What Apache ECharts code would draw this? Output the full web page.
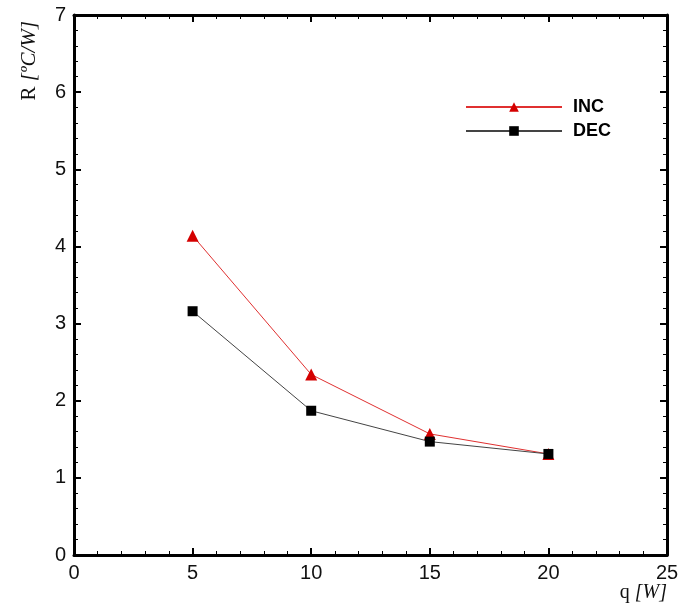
<!DOCTYPE html>
<html>
<head>
<meta charset="utf-8">
<script src="https://cdn.jsdelivr.net/npm/echarts@6/dist/echarts.min.js"></script>
<style>
  html, body { margin: 0; padding: 0; background: #fff; }
  #chart { width: 681px; height: 605px; }
</style>
</head>
<body>
<div id="chart"></div>
<script>
// Heat input q [W] and thermal resistance R [ºC/W]
const qValues = [5, 10, 15, 20];
const incValues = [4.14, 2.34, 1.57, 1.31];
const decValues = [3.16, 1.87, 1.47, 1.31];
const xTicks = [0, 5, 10, 15, 20, 25];
const yTicks = [0, 1, 2, 3, 4, 5, 6, 7];

const chart = echarts.init(document.getElementById('chart'), null, { renderer: 'canvas' });

const frameAxisLine = { show: true, onZero: false, lineStyle: { color: '#000', width: 3 } };
const tickFont = { fontFamily: 'Liberation Sans, Arial, sans-serif', fontSize: 20, color: '#111' };
const serif = 'Liberation Serif, Times New Roman, serif';

function toPairs(vals) { return qValues.map((q, i) => [q, vals[i]]); }

chart.setOption({
  animation: false,
  backgroundColor: '#fff',
  grid: { left: 74, right: 14, top: 15, bottom: 50, containLabel: false, outerBoundsMode: 'none' },
  legend: {
    orient: 'vertical',
    left: 460,
    top: 93,
    itemWidth: 96,
    itemHeight: 12,
    itemGap: 6,
    textStyle: { fontFamily: 'Liberation Sans, Arial, sans-serif', fontWeight: 'bold', fontSize: 18, color: '#000', padding: [0, 0, 0, 6] },
    data: ['INC', 'DEC']
  },
  xAxis: [
    {
      type: 'value', min: xTicks[0], max: xTicks[xTicks.length - 1], interval: 5,
      position: 'bottom',
      axisLine: frameAxisLine,
      axisTick: { show: true, inside: true, length: 7, lineStyle: { color: '#000', width: 2 } },
      minorTick: { show: true, splitNumber: 5, length: 4, lineStyle: { color: '#000', width: 1 } },
      axisLabel: Object.assign({ margin: 8 }, tickFont),
      splitLine: { show: false },
      name: '{r|q }{i|[W]}', nameLocation: 'end', nameGap: 0,
      nameTextStyle: {
        align: 'right', verticalAlign: 'top', padding: [28, 0, 0, 0],
        rich: {
          r: { fontFamily: serif, fontSize: 20, color: '#111' },
          i: { fontFamily: serif, fontStyle: 'italic', fontSize: 20, color: '#111' }
        }
      }
    },
    {
      type: 'value', min: xTicks[0], max: xTicks[xTicks.length - 1], interval: 5,
      position: 'top',
      axisLine: frameAxisLine,
      axisTick: { show: true, inside: true, length: 7, lineStyle: { color: '#000', width: 2 } },
      minorTick: { show: true, splitNumber: 5, length: 4, lineStyle: { color: '#000', width: 1 } },
      axisLabel: { show: false },
      splitLine: { show: false }
    }
  ],
  yAxis: [
    {
      type: 'value', min: yTicks[0], max: yTicks[yTicks.length - 1], interval: 1,
      position: 'left',
      axisLine: frameAxisLine,
      axisTick: { show: true, inside: true, length: 7, lineStyle: { color: '#000', width: 2 } },
      minorTick: { show: true, splitNumber: 5, length: 4, lineStyle: { color: '#000', width: 1 } },
      axisLabel: Object.assign({ margin: 8 }, tickFont),
      splitLine: { show: false },
      name: '{r|R }{i|[ºC/W]}', nameLocation: 'end', nameRotate: 90, nameGap: 0,
      nameTextStyle: {
        align: 'right', verticalAlign: 'bottom', padding: [0, 6, 34, 0],
        rich: {
          r: { fontFamily: serif, fontSize: 21, color: '#111' },
          i: { fontFamily: serif, fontStyle: 'italic', fontSize: 21, color: '#111' }
        }
      }
    },
    {
      type: 'value', min: yTicks[0], max: yTicks[yTicks.length - 1], interval: 1,
      position: 'right',
      axisLine: frameAxisLine,
      axisTick: { show: true, inside: true, length: 7, lineStyle: { color: '#000', width: 2 } },
      minorTick: { show: true, splitNumber: 5, length: 4, lineStyle: { color: '#000', width: 1 } },
      axisLabel: { show: false },
      splitLine: { show: false }
    }
  ],
  series: [
    {
      name: 'INC', type: 'line', xAxisIndex: 0, yAxisIndex: 0,
      data: toPairs(incValues),
      symbol: 'triangle', symbolSize: 12,
      itemStyle: { color: '#d40000' },
      lineStyle: { color: '#e03030', width: 1 }
    },
    {
      name: 'DEC', type: 'line', xAxisIndex: 0, yAxisIndex: 0,
      data: toPairs(decValues),
      symbol: 'rect', symbolSize: 10,
      itemStyle: { color: '#000' },
      lineStyle: { color: '#444', width: 1 }
    }
  ]
});
</script>
</body>
</html>
